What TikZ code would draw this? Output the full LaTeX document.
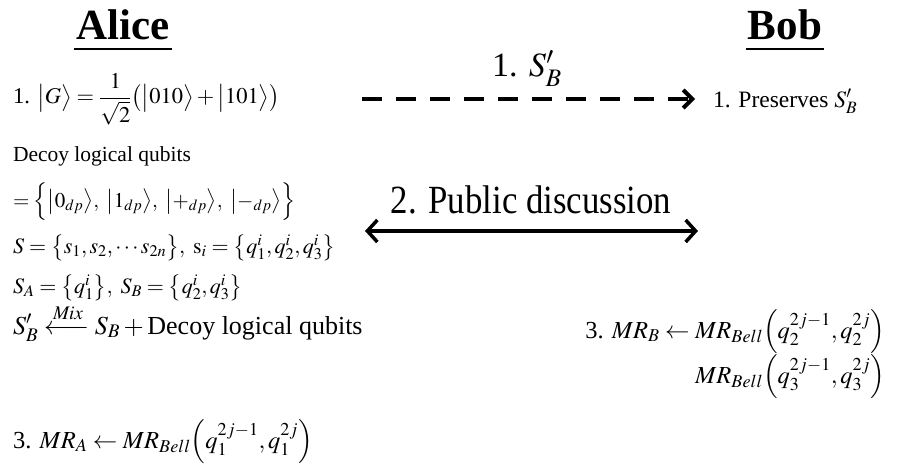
\documentclass[tikz,border=0pt]{standalone}
\usepackage{amsmath}
\usepackage{mathptmx}
\usepackage{fontspec}
\setmainfont{Liberation Serif}
\usetikzlibrary{arrows.meta}
\newcommand{\fsz}[1]{\fontsize{#1}{#1}\selectfont}
\newcommand{\sqz}[1]{\scalebox{0.87}[1]{#1}}
\begin{document}
\begin{tikzpicture}[x=1pt,y=-1pt,
  txt/.style={inner sep=0pt, outer sep=0pt, anchor=base west},
  txtr/.style={inner sep=0pt, outer sep=0pt, anchor=base east},
  title/.style={inner sep=0pt, outer sep=0pt, anchor=base, font=\bfseries\fsz{43}},
  uline/.style={line width=2.5pt},
  dasharrow/.style={line width=4pt, dash pattern=on 20pt off 14pt, -{Straight Barb[length=9pt,width=18pt,line width=4pt]}},
  dblarrow/.style={line width=3.5pt, {Straight Barb[length=10pt,width=22pt,line width=3.5pt]}-{Straight Barb[length=10pt,width=22pt,line width=3.5pt]}}]
\useasboundingbox (0,0) rectangle (901,468);
% titles
\node[title] (alice) at (123,40) {Alice};
\draw[uline] ([yshift=-9pt,xshift=-2pt]alice.base west) -- ([yshift=-9pt,xshift=2pt]alice.base east);
\node[title] (bob) at (785,40) {Bob};
\draw[uline] ([yshift=-9pt,xshift=-2pt]bob.base west) -- ([yshift=-9pt,xshift=2pt]bob.base east);
% Alice side
\node[txt, font=\fsz{22.5}] (g) at (13,104) {1. $\bigl|G\bigr\rangle=\dfrac{1}{\sqrt{2}}\bigl(\bigl|010\bigr\rangle+\bigl|101\bigr\rangle\bigr)$};
\node[txt, font=\fsz{21.5}] (decoy) at (13,161) {Decoy logical qubits};
\node[txt, font=\fsz{21}] (set) at (13,207) {$=\Bigl\{\bigl|0_{dp}\bigr\rangle,\ \bigl|1_{dp}\bigr\rangle,\ \bigl|+_{dp}\bigr\rangle,\ \bigl|-_{dp}\bigr\rangle\Bigr\}$};
\node[txt, font=\fsz{22}] (s) at (13,253) {$S=\bigl\{s_1,s_2,\cdots s_{2n}\bigr\},\ \mathrm{s}_i=\bigl\{q_1^i,q_2^i,q_3^i\bigr\}$};
\node[txt, font=\fsz{22}] (sa) at (13,293) {$S_A=\bigl\{q_1^i\bigr\},\ S_B=\bigl\{q_2^i,q_3^i\bigr\}$};
\node[txt, font=\fsz{26}] (sb) at (13,334) {$S'_B\xleftarrow{\mathit{Mix}}S_B+\text{Decoy logical qubits}$};
\node[txt, font=\fsz{24.5}] (mra) at (13,448) {3. $MR_A\leftarrow MR_{Bell}\Bigl(q_1^{2j-1},q_1^{2j}\Bigr)$};
% Bob side
\node[txt, font=\fsz{23.5}] (pres) at (713,107) {1. Preserves $S'_B$};
\node[txtr, font=\fsz{24.5}] (mrb) at (885,338) {3. $MR_B\leftarrow MR_{Bell}\Bigl(q_2^{2j-1},q_2^{2j}\Bigr)$};
\node[txtr, font=\fsz{24.5}] (mrb2) at (885,383) {$MR_{Bell}\Bigl(q_3^{2j-1},q_3^{2j}\Bigr)$};
% channel
\node[inner sep=0pt, anchor=base, font=\fsz{34}] (lab1) at (527,77) {1. $S'_B$};
\node[inner sep=0pt, anchor=base, font=\fsz{40}] (lab2) at (531,213) {\sqz{2. Public discussion}};
\coordinate (d1) at (362,99);
\coordinate (d2) at (695,99);
\draw[dasharrow] (d1) -- (d2);
\coordinate (p1) at (365,231);
\coordinate (p2) at (698,231);
\draw[dblarrow] (p1) -- (p2);
\end{tikzpicture}
\end{document}
